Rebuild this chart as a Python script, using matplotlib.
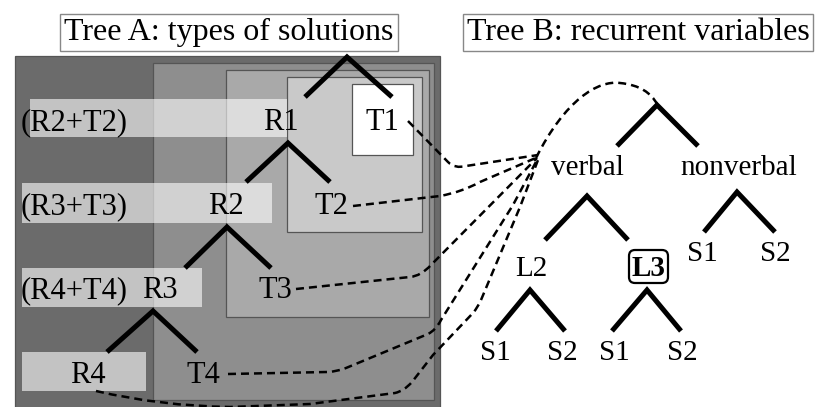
import matplotlib.pyplot as plt
from matplotlib.patches import Rectangle, FancyBboxPatch, PathPatch
from matplotlib.path import Path

plt.rcParams['font.family'] = ['Liberation Serif', 'DejaVu Serif']

titles = ['Tree A: types of solutions', 'Tree B: recurrent variables']
title_x = [229, 638]

# tree A: node labels
a_labels = ['R1', 'T1', 'R2', 'T2', 'R3', 'T3', 'R4', 'T4']
a_x = [281, 382, 226, 331, 160, 275, 88, 203]
a_y = [130, 130, 214, 214, 298, 298, 383, 383]
merge_labels = ['(R2+T2)', '(R3+T3)', '(R4+T4)']
merge_y = [130, 214, 298]

# tree B: node labels
b_labels = ['verbal', 'nonverbal', 'L2', 'L3', 'S1', 'S2', 'S1', 'S2', 'S1', 'S2']
b_x = [587, 739, 531, 648, 702, 775, 495, 562, 614, 682]
b_y = [175, 175, 276, 276, 261, 261, 360, 360, 360, 360]

# forks: apex x, apex y, left x, right x, bottom y
forks = [(347, 57, 305, 392, 97), (288, 143, 246, 330, 182),
         (227, 227, 185, 271, 268), (153, 311, 107, 197, 352),
         (657, 105, 617, 698, 146), (587, 196, 545, 628, 240),
         (737, 192, 704, 775, 232), (530, 290, 496, 565, 331),
         (647, 290, 612, 681, 331)]

# nested shaded boxes (x0, y0, x1, y1, grey)
layers = [(15, 56, 440, 412, '#6b6b6b'), (153, 63, 434, 400, '#8e8e8e'),
          (226, 70, 429, 317, '#a9a9a9'), (287, 77, 422, 232, '#c9c9c9'),
          (352, 84, 413, 155, '#ffffff')]
bands = [(30, 99, 287, 137), (22, 183, 272, 223), (22, 268, 202, 307), (22, 352, 146, 391)]

M, L, C3, C4 = Path.MOVETO, Path.LINETO, Path.CURVE3, Path.CURVE4
links = [
    ([(408, 121), (448, 162), (455, 169), (466, 166), (538, 155)], [M, L, C3, C3, L]),
    ([(353, 206), (440, 196), (462, 192), (480, 182), (538, 157)], [M, L, C3, C3, L]),
    ([(296, 289), (410, 277), (421, 276), (431, 265), (537, 158)], [M, L, C3, C3, L]),
    ([(228, 374), (327, 372), (336, 372), (346, 368), (428, 334), (436, 330), (441, 320),
      (513, 205), (537, 160)], [M, L, C3, C3, L, C3, C3, L, L]),
    ([(96, 391), (160, 406), (230, 407), (310, 404), (395, 393), (404, 391), (412, 382),
      (433, 355), (473, 313), (478, 307), (481, 300), (520, 207), (538, 160)],
     [M, C3, C3, L, L, C3, C3, L, L, C3, C3, L, L]),
    ([(536, 158), (565, 100), (598, 80), (620, 83), (640, 85), (651, 93), (657, 104)],
     [M, C4, C4, C4, C4, C4, C4]),
]

fig = plt.figure(figsize=(8.15, 4.07), dpi=100)
ax = fig.add_axes([0, 0, 1, 1])
ax.set_xlim(0, 815)
ax.set_ylim(407, 0)
ax.axis('off')

for x0, y0, x1, y1, c in layers:
    ax.add_patch(Rectangle((x0, y0), x1 - x0, y1 - y0, facecolor=c, edgecolor='#555555', lw=0.9))
for x0, y0, x1, y1 in bands:
    ax.add_patch(Rectangle((x0, y0), x1 - x0, y1 - y0, facecolor='white', alpha=0.6, lw=0))

for t, x in zip(titles, title_x):
    ax.text(x, 40, t, fontsize=23, ha='center', va='baseline',
            bbox=dict(boxstyle='square,pad=0.12', fc='white', ec='#888888', lw=1))

for t, x, y in zip(a_labels, a_x, a_y):
    ax.text(x, y, t, fontsize=22, ha='center', va='baseline')
for t, y in zip(merge_labels, merge_y):
    ax.text(21, y, t, fontsize=22, ha='left', va='baseline')

for t, x, y in zip(b_labels, b_x, b_y):
    ax.text(x, y, t, fontsize=21, ha='center', va='baseline',
            fontweight='bold' if t == 'L3' and x == 648 else 'normal')
ax.add_patch(FancyBboxPatch((629, 250), 39, 33, boxstyle='round,pad=0,rounding_size=6',
                            fc='none', ec='black', lw=1.6))

for ax_, ay, lx, rx, by in forks:
    ax.plot([lx, ax_, rx], [by, ay, by], color='black', lw=3.6,
            solid_joinstyle='miter', solid_capstyle='butt')

for verts, codes in links:
    ax.add_patch(PathPatch(Path(verts, codes), fc='none', ec='black', lw=1.8,
                           linestyle=(0, (3.2, 2.0))))

fig.savefig('out.png', dpi=100)
